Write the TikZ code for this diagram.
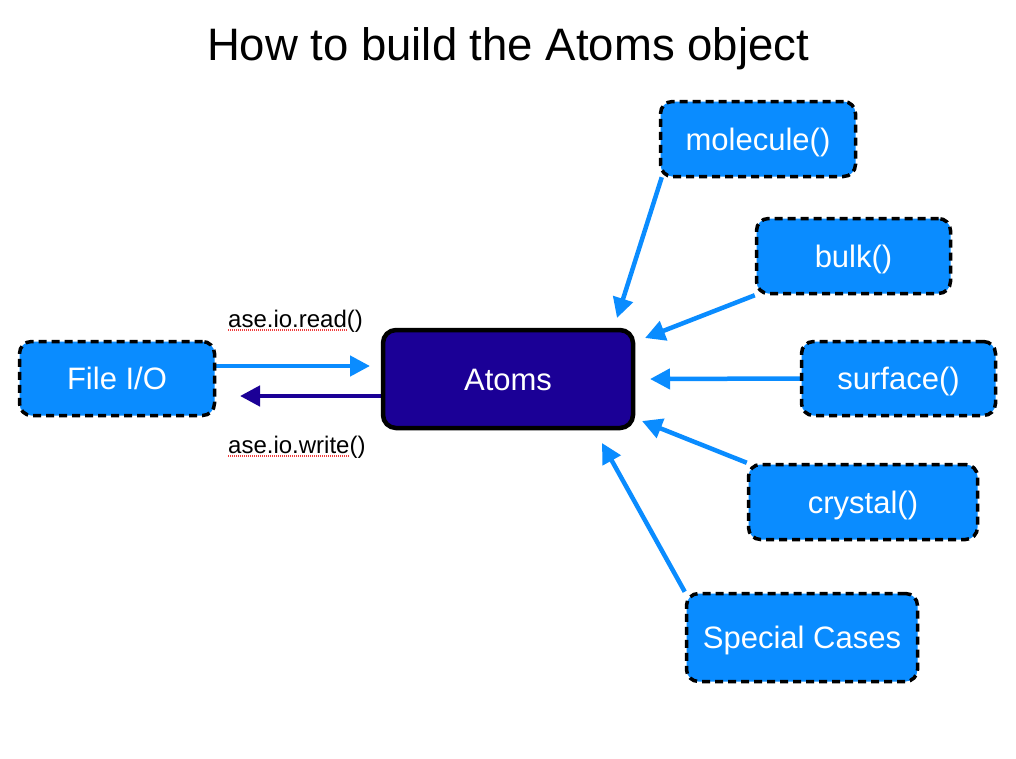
\documentclass[tikz,border=0pt]{standalone}
\usepackage{fontspec}
\setmainfont{Liberation Sans}
\usetikzlibrary{arrows.meta,backgrounds}

\definecolor{boxblue}{RGB}{10,140,255}
\definecolor{atomblue}{RGB}{27,0,150}
\definecolor{markred}{RGB}{240,60,60}

\begin{document}
\begin{tikzpicture}[x=1pt,y=-1pt,
  srcbox/.style={draw=black, line width=3.5pt, dash pattern=on 8pt off 5pt,
    fill=boxblue, rounded corners=12pt, text=white, inner sep=0pt,
    font=\fontsize{31}{31}\selectfont, text height=22pt, text depth=0pt},
  corebox/.style={draw=black, line width=4.5pt, fill=atomblue,
    rounded corners=13pt, text=white, inner sep=0pt,
    font=\fontsize{31}{31}\selectfont, text height=22pt, text depth=0pt},
  feed/.style={draw=boxblue, line width=4.5pt, -{Triangle[length=20pt,width=20pt]}},
  back/.style={draw=atomblue, line width=4.5pt, -{Triangle[length=20pt,width=20pt]}},
  apilabel/.style={font=\fontsize{24}{24}\selectfont, inner sep=0pt, anchor=base west},
  squiggle/.style={draw=markred, line width=1.1pt, dash pattern=on 1.1pt off 0.9pt}]

  \useasboundingbox (0,0) rectangle (1016,758);

  \node[font=\fontsize{45.5}{45.5}\selectfont, anchor=base, inner sep=0pt] (title)
    at (508,60) {How to build the Atoms object};

  % central object and its sources
  \node[corebox, minimum width=250pt, minimum height=98pt] (atoms) at (508,379) {Atoms};
  \node[srcbox, minimum width=195pt, minimum height=74pt] (fileio) at (117,378.5) {File I/O};
  \node[srcbox, minimum width=195pt, minimum height=75pt] (molecule) at (758,139) {molecule()};
  \node[srcbox, minimum width=194pt, minimum height=75pt] (bulk) at (853.5,256) {bulk()};
  \node[srcbox, minimum width=194pt, minimum height=74pt] (surface) at (898.5,378.5) {surface()};
  \node[srcbox, minimum width=229pt, minimum height=75pt] (crystal) at (863,502) {crystal()};
  \node[srcbox, minimum width=231pt, minimum height=88pt] (special) at (802,637.5) {Special Cases};

  % arrow tips
  \coordinate (readtip) at (370,366);
  \coordinate (writetip) at (240,396);
  \coordinate (moltip) at (617,318);
  \coordinate (bulktip) at (645,338);
  \coordinate (surftip) at (650,379);
  \coordinate (crysttip) at (642,421);
  \coordinate (spectip) at (602,443);

  \begin{scope}[on background layer]
    \fill[white] (0,0) rectangle (1016,758);
    \draw[feed] ([yshift=12.5pt]fileio.east) -- (readtip);
    \draw[back] ([yshift=-17pt]atoms.west) -- (writetip);
    \draw[feed] ([shift={(3pt,1pt)}]molecule.south west) -- (moltip);
    \draw[feed] (bulk.south west) -- (bulktip);
    \draw[feed] (surface.west) -- (surftip);
    \draw[feed] (crystal.north west) -- (crysttip);
    \draw[feed] (special.north west) -- (spectip);
  \end{scope}

  \node[apilabel] (readlbl) at (228,327) {ase.io.read()};
  \node[apilabel] (writelbl) at (228,453) {ase.io.write()};

  % spell-check marks under the module paths (the "()" is left unmarked)
  \draw[squiggle] ([yshift=-3pt]readlbl.base west) -- ([shift={(-16pt,-3pt)}]readlbl.base east);
  \draw[squiggle] ([yshift=-3pt]writelbl.base west) -- ([shift={(-16pt,-3pt)}]writelbl.base east);
\end{tikzpicture}
\end{document}
